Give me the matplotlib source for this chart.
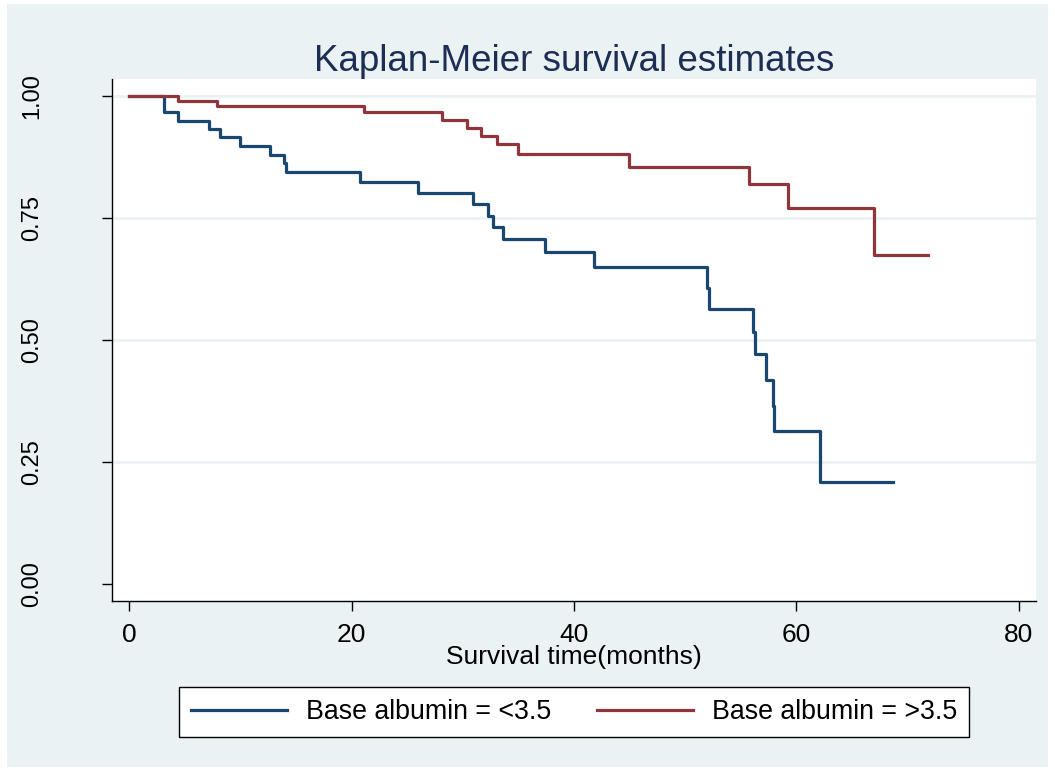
import matplotlib.pyplot as plt
from matplotlib.patches import Rectangle

# KM step points (time in months, survival)
blue_t = [0, 3.1, 4.4, 7.2, 8.2, 10.0, 12.7, 13.9, 14.1, 20.8, 26.0, 30.9, 32.3, 32.7,
          33.6, 37.4, 41.8, 52.0, 52.1, 56.1, 56.3, 57.3, 57.9, 58.0, 62.1, 68.7]
blue_s = [1.0, 0.967, 0.949, 0.932, 0.916, 0.898, 0.879, 0.862, 0.844, 0.824, 0.801, 0.779,
          0.754, 0.732, 0.707, 0.680, 0.650, 0.607, 0.563, 0.516, 0.471, 0.418, 0.365, 0.314,
          0.209, 0.209]
red_t = [0, 4.4, 7.9, 21.1, 28.1, 30.4, 31.6, 33.1, 35.0, 44.9, 55.7, 59.2, 67.0, 71.8]
red_s = [1.0, 0.990, 0.980, 0.967, 0.951, 0.934, 0.918, 0.902, 0.881, 0.855, 0.820, 0.770,
         0.674, 0.674]
labels = ["Base albumin = <3.5", "Base albumin = >3.5"]
xticks = [0, 20, 40, 60, 80]
yticks = [0.0, 0.25, 0.5, 0.75, 1.0]

bg = "#EAF2F3"
plt.rcParams["font.family"] = ["Liberation Sans", "DejaVu Sans"]

fig = plt.figure(figsize=(10.55, 7.68), dpi=100, facecolor="white")
# stata-ish outer panel, behind everything
fig.patches.append(Rectangle((7 / 1055, 1 / 768), 1041 / 1055, 763 / 768,
                             transform=fig.transFigure, facecolor=bg, edgecolor="none", zorder=-5))

ax = fig.add_axes([112 / 1055, 1 - 601 / 768, 924 / 1055, 522 / 768])
ax.set_facecolor("white")

ax.step(blue_t, blue_s, where="post", color="#1A476F", lw=2.3, label=labels[0], zorder=3)
ax.step(red_t, red_s, where="post", color="#90353B", lw=2.3, label=labels[1], zorder=3)

ax.set_xlim(-1.53, 81.53)
ax.set_ylim(-0.035, 1.035)
ax.set_xticks(xticks)
ax.set_yticks(yticks)
ax.set_yticklabels(["%.2f" % v for v in yticks], rotation=90, va="center")
ax.tick_params(axis="both", length=7.5, direction="out", width=1)
ax.tick_params(axis="y", pad=42, labelsize=17)
ax.tick_params(axis="x", pad=8, labelsize=19)

for v in yticks[1:]:
    ax.axhline(v, color=bg, lw=2, zorder=1)

for s in ["top", "right"]:
    ax.spines[s].set_visible(False)
ax.spines["left"].set_linewidth(1)
ax.spines["bottom"].set_linewidth(1)

ax.set_title("Kaplan-Meier survival estimates", fontsize=26.5, color="#1E2D53", pad=6)
ax.set_xlabel("Survival time(months)", fontsize=19, labelpad=-1)

leg = fig.legend(loc="center", bbox_to_anchor=(574 / 1055, 1 - 712 / 768), ncol=2,
                 fontsize=19.3, handlelength=3.6, columnspacing=1.68, handletextpad=0.7,
                 frameon=True, fancybox=False, borderpad=0.45, edgecolor="black",
                 framealpha=1, facecolor="white")
leg.get_frame().set_linewidth(1)

fig.savefig("out.png", dpi=100, facecolor=fig.get_facecolor())
